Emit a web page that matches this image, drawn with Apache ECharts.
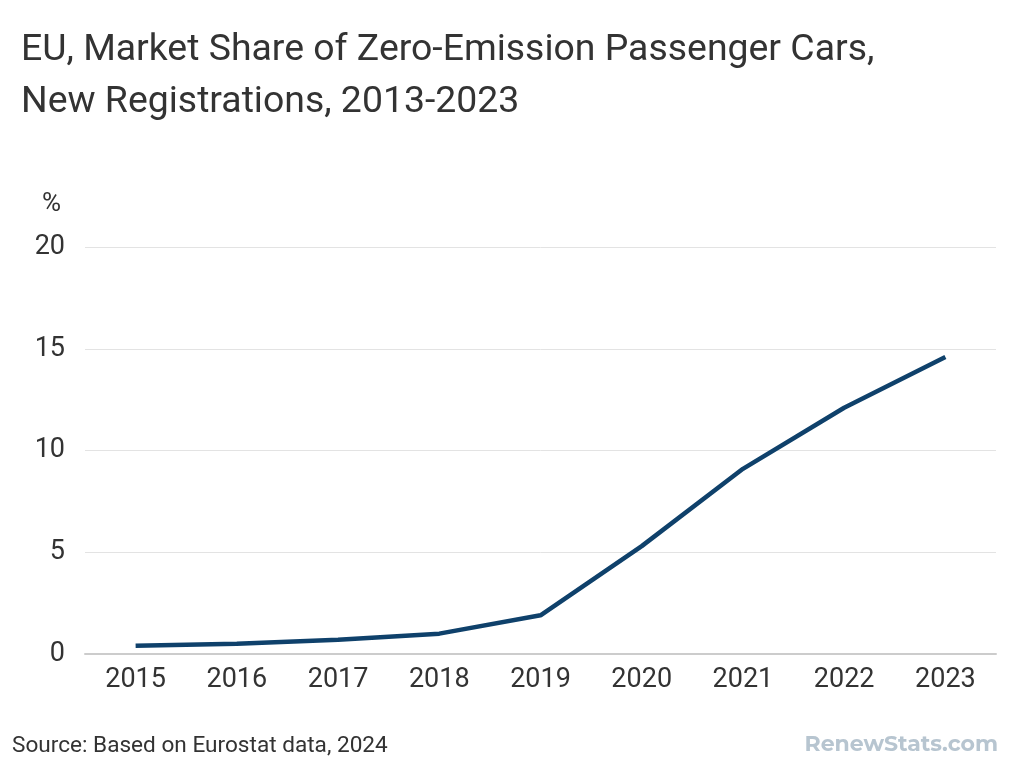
<!DOCTYPE html>
<html><head><meta charset="utf-8">
<script src="https://cdn.jsdelivr.net/npm/echarts@6/dist/echarts.min.js"></script>
<style>html,body{margin:0;padding:0;background:#fff}#c{width:1024px;height:768px}</style>
</head><body><div id="c"></div>
<script>
const years = ['2015','2016','2017','2018','2019','2020','2021','2022','2023'];
const share = [0.4, 0.5, 0.7, 1.0, 1.9, 5.3, 9.1, 12.1, 14.6];
const chart = echarts.init(document.getElementById('c'));
chart.setOption({
  backgroundColor: '#fff',
  animation: false,
  title: {
    text: 'EU, Market Share of Zero-Emission Passenger Cars,\nNew Registrations, 2013-2023',
    left: 21, top: 25, padding: 0,
    textStyle: { fontFamily: 'Roboto', fontSize: 37.4, fontWeight: 'normal', color: '#333', lineHeight: 52 }
  },
  graphic: [
    { type: 'text', left: 42, top: 191, style: { text: '%', font: '26px Roboto', fill: '#333' } },
    { type: 'text', left: 12, top: 735, style: { text: 'Source: Based on Eurostat data, 2024', font: '22.6px Roboto', fill: '#333' } },
    { type: 'text', right: 26, top: 734, style: { text: 'RenewStats.com', font: 'bold 22px Montserrat, "Open Sans", sans-serif', fill: '#b7c5d0' } }
  ],
  grid: { left: 85, right: 28, top: 247, bottom: 114 },
  xAxis: {
    type: 'category', data: years, boundaryGap: true,
    axisLine: { lineStyle: { color: '#ccc', width: 2 } },
    axisTick: { show: false },
    axisLabel: { fontFamily: 'Roboto', fontSize: 27, color: '#333', margin: 13 }
  },
  yAxis: {
    type: 'value', min: 0, max: 20, interval: 5,
    axisLabel: { fontFamily: 'Roboto', fontSize: 27, color: '#333', margin: 20 },
    splitLine: { lineStyle: { color: '#e3e3e3', width: 1 } },
    axisLine: { show: false }, axisTick: { show: false }
  },
  series: [{
    type: 'line', data: share, symbol: 'none',
    lineStyle: { color: '#0f416b', width: 4.5 }
  }]
});
</script></body></html>
